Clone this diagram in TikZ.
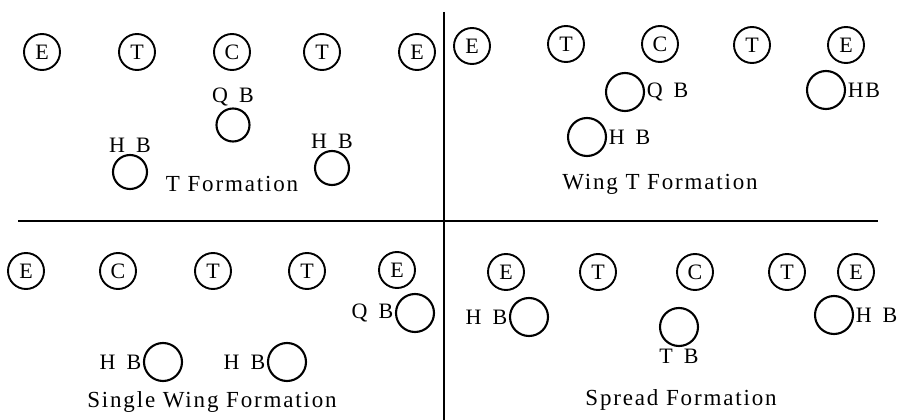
\documentclass[tikz,border=0pt]{standalone}
\usepackage{fontspec}
\setmainfont{Liberation Serif}
\newfontfamily\spaced[LetterSpace=8]{Liberation Serif}
\usepackage{tikz}
\usetikzlibrary{positioning}

\begin{document}
\begin{tikzpicture}[x=1pt,y=-1pt,
  man/.style={circle,draw,line width=1.9pt,minimum size=36pt,inner sep=0pt,font=\fontsize{22}{22}\selectfont},
  back/.style={circle,draw,line width=2.1pt,minimum size=38pt,inner sep=0pt},
  lab/.style={inner sep=1.5pt,font=\spaced\fontsize{22}{22}\selectfont},
  title/.style={font=\spaced\fontsize{23}{24}\selectfont},
  rule/.style={line width=1.8pt}
]
\useasboundingbox (0,0) rectangle (908,420);

% dividing lines
\coordinate (vtop) at (444,12);
\coordinate (vbot) at (444,420);
\coordinate (hleft) at (18,221);
\coordinate (hright) at (878,221);
\draw[rule] (vtop) -- (vbot);
\draw[rule] (hleft) -- (hright);

% T formation
\node[man] (tle1) at (42,52) {E};
\node[man] (tlt1) at (137,52) {T};
\node[man] (tlc) at (232,52) {C};
\node[man] (tlt2) at (322,52) {T};
\node[man] (tle2) at (417,52) {E};
\node[back,minimum size=33pt] (tlqb) at (233,125) {};
\node[lab,above=0pt of tlqb] (tlqbl) {Q\enspace B};
\node[back,minimum size=34pt] (tlhb1) at (130,172) {};
\node[lab,above=0pt of tlhb1] (tlhb1l) {H\enspace B};
\node[back,minimum size=34pt] (tlhb2) at (332,168) {};
\node[lab,above=0pt of tlhb2] (tlhb2l) {H\enspace B};
\node[title] (tltitle) at (232,184) {T Formation};

% Wing T formation
\node[man] (tre1) at (472,46) {E};
\node[man] (trt1) at (566,44) {T};
\node[man] (trc) at (660,44) {C};
\node[man] (trt2) at (752,45) {T};
\node[man] (tre2) at (846,45) {E};
\node[back] (trqb) at (625,92) {};
\node[lab,right=0pt of trqb] (trqbl) {Q\enspace B};
\node[back] (trhb2) at (826,90) {};
\node[lab,right=0pt of trhb2] (trhb2l) {HB};
\node[back] (trhb1) at (587,137) {};
\node[lab,right=0pt of trhb1] (trhb1l) {H\enspace B};
\node[title] (trtitle) at (660,184) {Wing T Formation};

% Single wing formation
\node[man] (ble1) at (26,271) {E};
\node[man] (blc) at (118,271) {C};
\node[man] (blt1) at (213,271) {T};
\node[man] (blt2) at (307,271) {T};
\node[man] (ble2) at (397,270) {E};
\node[back] (blqb) at (415,313) {};
\node[lab,left=0pt of blqb] (blqbl) {Q\enspace B};
\node[back] (blhb1) at (163,362) {};
\node[lab,left=0pt of blhb1] (blhb1l) {H\enspace B};
\node[back] (blhb2) at (287,362) {};
\node[lab,left=0pt of blhb2] (blhb2l) {H\enspace B};
\node[title] (bltitle) at (212,402) {Single Wing Formation};

% Spread formation
\node[man] (spe1) at (506,272) {E};
\node[man] (spt1) at (598,272) {T};
\node[man] (spc) at (695,272) {C};
\node[man] (spt2) at (787,272) {T};
\node[man] (spe2) at (856,272) {E};
\node[back] (sphb1) at (529,317) {};
\node[lab,left=0pt of sphb1] (sphb1l) {H\enspace B};
\node[back] (sptb) at (679,327) {};
\node[lab,below=0pt of sptb] (sptbl) {T\enspace B};
\node[back] (sphb2) at (834,315) {};
\node[lab,right=0pt of sphb2] (sphb2l) {H\enspace B};
\node[title] (sptitle) at (681,400) {Spread Formation};
\end{tikzpicture}
\end{document}
